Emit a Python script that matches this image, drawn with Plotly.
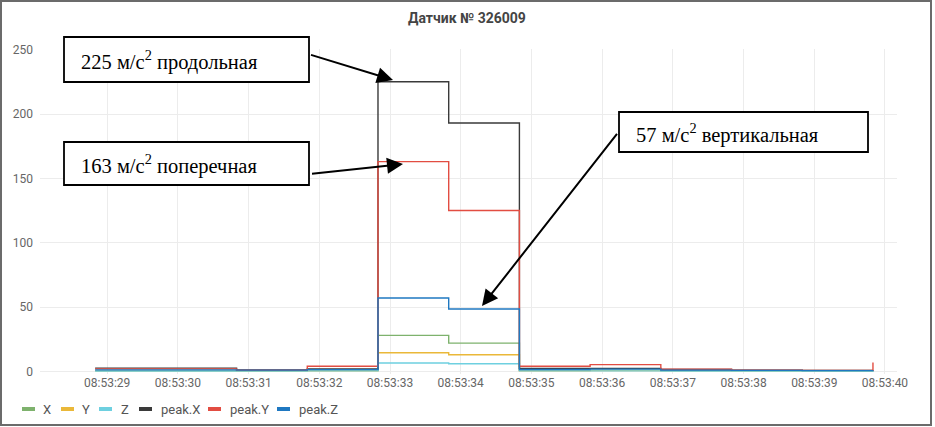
import plotly.graph_objects as go

# sample times (one per second) and sensor readings, m/s^2
times = ["2020-01-01 08:53:%06.3f" % s for s in
         [28.83, 29.83, 30.83, 31.83, 32.83, 33.83, 34.83, 35.83, 36.83, 37.83, 38.83, 39.83]]

series_names = ["X", "Y", "Z", "peak.X", "peak.Y", "peak.Z"]
x_vals = [0.6, 0.6, 0.5, 0.8, 28.0, 22.0, 0.8, 1.0, 0.6, 0.5, 0.4, 0.5]
y_vals = [0.4, 0.4, 0.3, 0.5, 14.5, 13.0, 0.5, 0.6, 0.4, 0.3, 0.3, 0.3]
z_vals = [0.3, 0.3, 0.3, 0.4, 6.5, 6.0, 0.4, 0.4, 0.3, 0.3, 0.2, 0.3]
peak_x = [2.6, 2.6, 1.2, 2.0, 225.0, 193.0, 2.4, 2.4, 1.5, 1.0, 0.8, 1.0]
peak_y = [2.0, 2.0, 1.0, 4.0, 163.0, 125.0, 4.0, 5.3, 1.8, 1.0, 0.8, 7.0]
peak_z = [1.2, 1.2, 1.0, 1.4, 57.0, 48.5, 1.5, 1.8, 1.0, 0.8, 0.6, 1.0]
colors = ["#7EB26D", "#EAB839", "#6ED0E0", "#3a3a3a", "#E24D42", "#1F78C1"]

callouts = ["225 м/с<sup>2</sup> продольная",
            "163 м/с<sup>2</sup> поперечная",
            "57 м/с<sup>2</sup> вертикальная"]

W, H = 935, 427
L, R, T, B = 40, 897, 49, 374


def px(v):
    return (v - L) / (R - L)


def py(v):
    return (B - v) / (B - T)


fig = go.Figure()
for name, vals, c in zip(series_names, [x_vals, y_vals, z_vals, peak_x, peak_y, peak_z], colors):
    fig.add_trace(go.Scatter(x=times, y=vals, name=name, mode="lines",
                             line=dict(color=c, width=1.4, shape="hv"),
                             showlegend=False))

shapes = []
annotations = []

# outer frame
shapes.append(dict(type="rect", xref="paper", yref="paper",
                   x0=px(1), x1=px(931), y0=py(1), y1=py(425),
                   line=dict(color="#6b6b6b", width=2), layer="below"))

# callout boxes
boxes = [(64, 37, 309, 82), (64, 142, 309, 185), (619, 112, 868, 152)]
for (x0, y0, x1, y1), txt in zip(boxes, callouts):
    shapes.append(dict(type="rect", xref="paper", yref="paper",
                       x0=px(x0), x1=px(x1), y0=py(y0), y1=py(y1),
                       line=dict(color="black", width=1.8), fillcolor="white", layer="above"))
    annotations.append(dict(xref="paper", yref="paper", x=px(x0 + 15), y=py((y0 + y1) / 2 + 1),
                            xanchor="left", yanchor="middle", showarrow=False, text=txt,
                            font=dict(family="Liberation Serif", size=20.5, color="black")))

# arrows (tip, tail offset in px)
arrows = [((393, 80), (-85, -26)), ((403, 164), (-94, 10)), ((482, 306), (138, -176))]
for (tx, ty), (ax, ay) in arrows:
    annotations.append(dict(xref="paper", yref="paper", x=px(tx), y=py(ty), text=" ",
                            showarrow=True, axref="pixel", ayref="pixel", ax=ax, ay=ay,
                            arrowhead=2, arrowsize=1.6, arrowwidth=2, arrowcolor="black",
                            standoff=0))

# title
annotations.append(dict(xref="paper", yref="paper", x=px(467), y=py(18), showarrow=False,
                        text="<b>Датчик № 326009</b>", xanchor="center", yanchor="middle",
                        font=dict(family="Roboto", size=14, color="#444")))

# legend (Grafana style short bars)
leg_pos = [(22, 47), (61, 86), (99, 125), (139, 180), (208, 249), (277, 318)]
for (mx, tx), name, c in zip(leg_pos, series_names, colors):
    shapes.append(dict(type="line", xref="paper", yref="paper",
                       x0=px(mx), x1=px(mx + 13), y0=py(409), y1=py(409),
                       line=dict(color=c, width=4)))
    annotations.append(dict(xref="paper", yref="paper", x=px(tx), y=py(409), showarrow=False,
                            text=name, xanchor="center", yanchor="middle",
                            font=dict(family="Roboto", size=13, color="#555")))

fig.update_layout(
    width=W, height=H,
    margin=dict(l=L, r=W - R, t=T, b=H - B),
    plot_bgcolor="white", paper_bgcolor="white",
    font=dict(family="Roboto", size=12, color="#666"),
    shapes=shapes, annotations=annotations,
    showlegend=False,
)
fig.update_xaxes(
    type="date",
    range=["2020-01-01 08:53:28.05", "2020-01-01 08:53:40.17"],
    tick0="2020-01-01 08:53:29", dtick=1000, tickformat="%H:%M:%S",
    showgrid=True, gridcolor="#ececec", gridwidth=1,
    showline=False, zeroline=False, ticks="",
    tickfont=dict(size=12, color="#666"),
)
fig.update_yaxes(
    range=[-2, 250.5], tickvals=[0, 50, 100, 150, 200, 250],
    showgrid=True, gridcolor="#ececec", gridwidth=1,
    zeroline=False, showline=False, ticks="", ticklabelstandoff=6,
    tickfont=dict(size=12, color="#666"),
)

fig.write_html("out.html", config={"displayModeBar": False},
               post_script="document.body.style.margin='0';")
